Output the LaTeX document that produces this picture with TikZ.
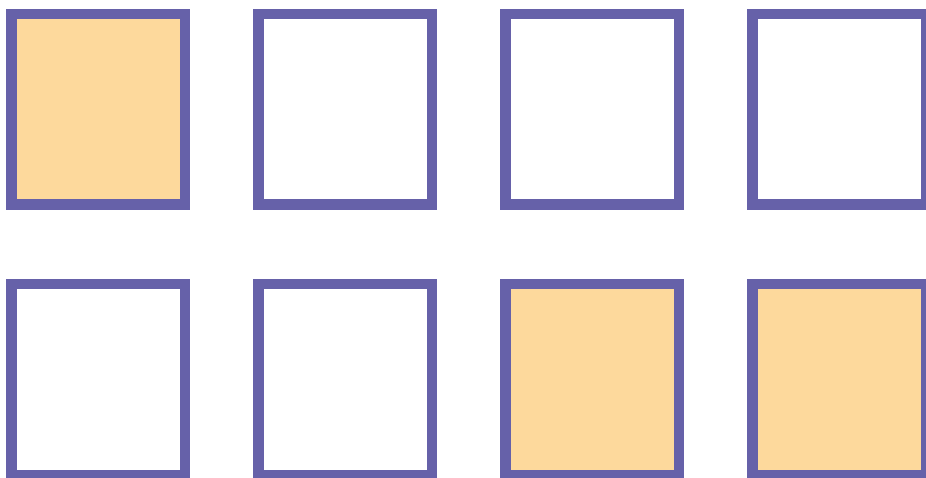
\documentclass[tikz,border=0pt]{standalone}
\definecolor{boxpurple}{HTML}{6661A9}
\definecolor{boxfill}{HTML}{FDD99C}
\begin{document}
\begin{tikzpicture}[x=1pt,y=-1pt,
  cell/.style={draw=boxpurple,line width=10.5pt,rectangle,inner sep=0pt,
    minimum width=173.5pt,minimum height=190.5pt,fill=white},
  lit/.style={cell,fill=boxfill}]
\useasboundingbox (0,0) rectangle (926,478);
\clip (0,0) rectangle (926,478);
\node[lit]  (a1) at (98,109.5) {};
\node[cell] (a2) at (345,109.5) {};
\node[cell] (a3) at (592,109.5) {};
\node[cell] (a4) at (839,109.5) {};
\node[cell] (b1) at (98,379.5) {};
\node[cell] (b2) at (345,379.5) {};
\node[lit]  (b3) at (592,379.5) {};
\node[lit]  (b4) at (839,379.5) {};
\end{tikzpicture}
\end{document}
